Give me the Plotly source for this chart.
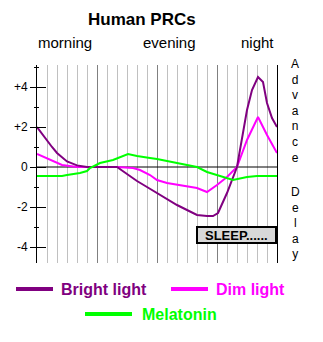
import plotly.graph_objects as go

# ---- data ----
bright_h = [0, 0.5, 1, 1.5, 2, 3, 4, 5, 6, 7, 8, 9, 10, 11, 12, 13, 14, 15, 16, 17, 17.6, 18.1, 19, 20, 21, 21.5, 22.1, 22.6, 23, 23.5, 24]
bright_v = [2.0, 1.65, 1.35, 1.0, 0.7, 0.28, 0.08, 0.0, 0.0, 0.0, 0.0, -0.35, -0.7, -1.0, -1.3, -1.6, -1.9, -2.15, -2.4, -2.45, -2.45, -2.3, -1.3, 0.0, 2.85, 3.85, 4.5, 4.25, 3.2, 2.45, 2.0]

dim_h = [0, 1.3, 2.5, 4, 6, 8, 9.6, 10.3, 11.3, 12, 13, 16, 17, 18, 19, 20, 21, 22, 22.1, 23, 24]
dim_v = [0.65, 0.35, 0.1, 0.0, 0.0, 0.0, -0.05, -0.15, -0.4, -0.65, -0.8, -1.05, -1.25, -0.9, -0.5, 0.0, 1.35, 2.45, 2.5, 1.6, 0.7]

mel_h = [0, 2.5, 3, 4.3, 5, 5.3, 6.3, 7.6, 9.1, 10, 11.3, 12, 14, 16, 17, 18, 19.6, 21, 22, 24]
mel_v = [-0.45, -0.45, -0.4, -0.3, -0.2, -0.05, 0.2, 0.35, 0.65, 0.55, 0.45, 0.4, 0.2, 0.0, -0.25, -0.4, -0.65, -0.5, -0.45, -0.45]

series_names = ["Bright light", "Dim light", "Melatonin"]
series_colors = ["#800080", "#ff00ff", "#00ff00"]

ytick_vals = [4, 2, 0, -2, -4]
ytick_text = ["+4", "+2", "0", "-2", "-4"]
yminor_vals = [5, 3, 1, -1, -3]

period_labels = ["morning", "evening", "night"]
period_pos = [2.75, 13.2, 22.0]

sleep_start, sleep_end = 16, 23.9
sleep_top, sleep_bottom = -3.0, -3.8

x_range = [0, 24]
y_range = [-4.8, 5.1]

FONT = "Liberation Sans, Arial, sans-serif"

fig = go.Figure()
order = [1, 0, 2]
xs = [bright_h, dim_h, mel_h]
ys = [bright_v, dim_v, mel_v]
for i in order:
    fig.add_trace(go.Scatter(x=xs[i], y=ys[i], mode="lines", name=series_names[i],
                             line=dict(color=series_colors[i], width=2),
                             showlegend=False, hoverinfo="skip", cliponaxis=False))

# zero line extending past right axis
fig.add_shape(type="line", xref="x", yref="y", x0=0, x1=24.8, y0=0, y1=0,
              line=dict(color="black", width=1), layer="between")

# sleep box
fig.add_shape(type="rect", xref="x", yref="y", x0=sleep_start, x1=sleep_end,
              y0=sleep_bottom, y1=sleep_top, fillcolor="#d8d8d8",
              line=dict(color="black", width=2), layer="above")
fig.add_annotation(xref="x", yref="y", x=sleep_start + 0.6, y=(sleep_top + sleep_bottom) / 2,
                   text="<b>SLEEP......</b>", showarrow=False, xanchor="left", yanchor="middle",
                   font=dict(family=FONT, size=13, color="black"))

# title
fig.add_annotation(xref="paper", yref="paper", x=0.4375, y=(263 - 20) / 198,
                   text="<b>Human PRCs</b>", showarrow=False, xanchor="center", yanchor="middle",
                   font=dict(family=FONT, size=17, color="black"))

# period labels
for lab, pos in zip(period_labels, period_pos):
    fig.add_annotation(xref="x", yref="paper", x=pos, y=(263 - 43) / 198, text=lab,
                       showarrow=False, xanchor="center", yanchor="middle",
                       font=dict(family=FONT, size=15, color="black"))

# Advance / Delay
for word, ypix in [("Advance", 111), ("Delay", 223)]:
    fig.add_annotation(xref="paper", yref="paper", x=(295 - 37) / 240, y=(263 - ypix) / 198,
                       text="<br>".join(list(word)), showarrow=False, xanchor="center",
                       yanchor="middle", font=dict(family=FONT, size=12, color="black"))

# custom legend
leg = [(0, 16, 53, 59, 289), (1, 171, 208, 214, 289), (2, 85, 132, 140, 314)]
for i, lx0, lx1, tx, ly in leg:
    fig.add_shape(type="line", xref="paper", yref="paper",
                  x0=(lx0 - 37) / 240, x1=(lx1 - 37) / 240,
                  y0=(263 - ly) / 198, y1=(263 - ly) / 198,
                  line=dict(color=series_colors[i], width=4))
    fig.add_annotation(xref="paper", yref="paper", x=(tx - 37) / 240, y=(263 - ly) / 198,
                       text="<b>" + series_names[i] + "</b>", showarrow=False,
                       xanchor="left", yanchor="middle",
                       font=dict(family=FONT, size=16, color=series_colors[i]))

fig.update_layout(
    width=323, height=342,
    margin=dict(l=37, r=46, t=65, b=79, pad=0),
    paper_bgcolor="white", plot_bgcolor="white",
    xaxis=dict(range=x_range, showticklabels=False, ticks="", tickmode="linear", tick0=0, dtick=6,
               showgrid=True, gridcolor="#808080", gridwidth=1, zeroline=False, showline=False,
               minor=dict(tickmode="linear", tick0=0, dtick=1, showgrid=True, gridcolor="#c0c0c0",
                          gridwidth=1, ticks="")),
    yaxis=dict(range=y_range, tickmode="array", tickvals=ytick_vals, ticktext=ytick_text,
               ticks="outside", ticklen=6, tickcolor="black", tickwidth=1,
               showgrid=False, zeroline=False, showline=True, linecolor="black", linewidth=1,
               mirror=True,
               tickfont=dict(family=FONT, size=12, color="black"),
               minor=dict(tickmode="array", tickvals=yminor_vals, ticks="outside", ticklen=2,
                          tickcolor="black", showgrid=False)),
    yaxis2=dict(range=y_range, overlaying="y", tickmode="array", tickvals=ytick_vals,
                showticklabels=False, ticks="inside", ticklen=9, tickcolor="black",
                showgrid=False, zeroline=False, showline=False,
                minor=dict(tickmode="array", tickvals=yminor_vals, ticks="inside", ticklen=2,
                           tickcolor="black", showgrid=False)),
)
# dummy trace to activate yaxis2
fig.add_trace(go.Scatter(x=[None], y=[None], yaxis="y2", showlegend=False, hoverinfo="skip"))

fig.write_html("out.html")
